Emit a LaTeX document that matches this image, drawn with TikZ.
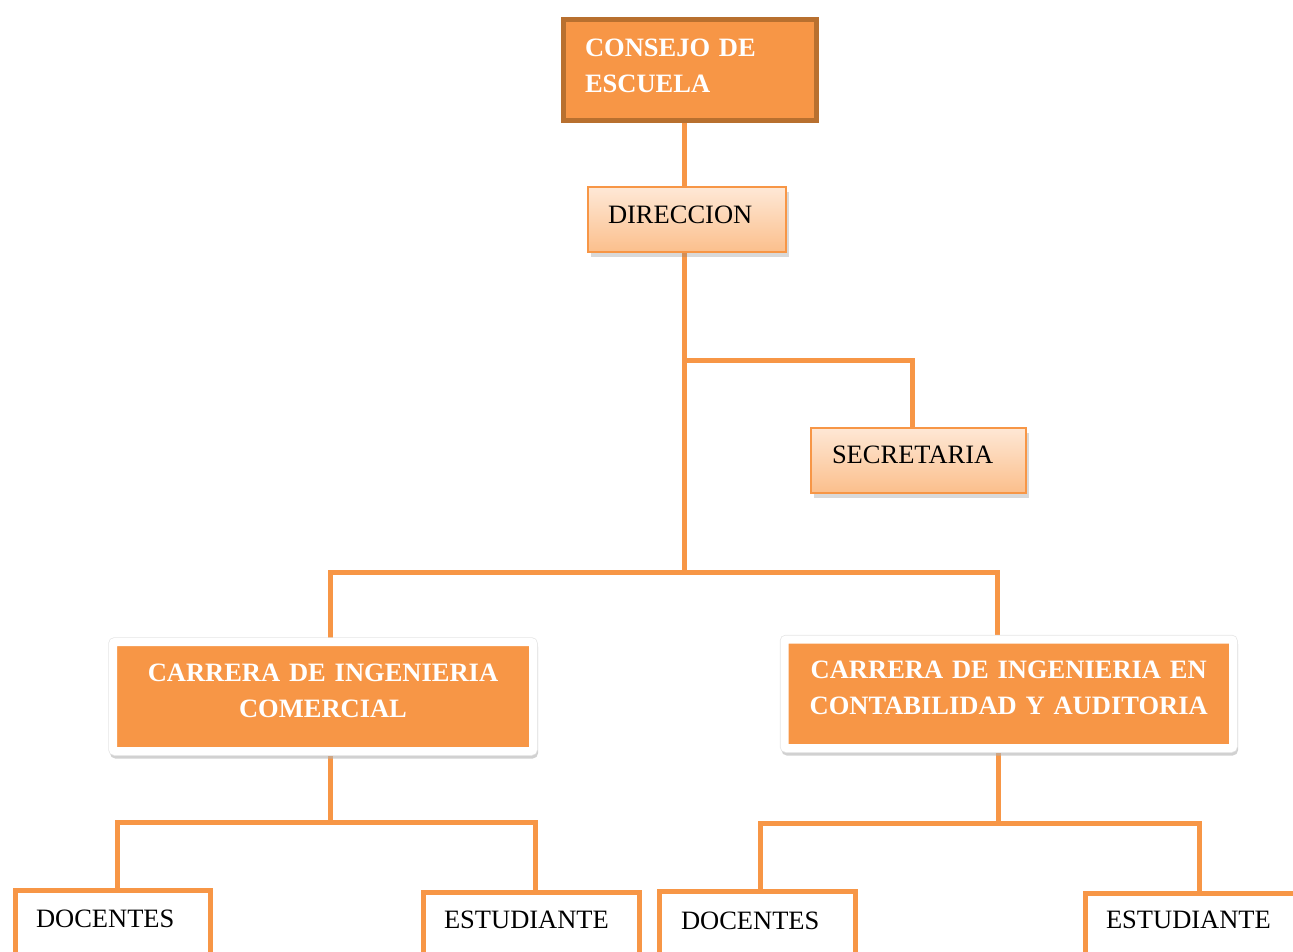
\documentclass[tikz,border=0pt]{standalone}
\usepackage{fontspec}
\setmainfont{Liberation Serif}
\usetikzlibrary{shadows,backgrounds}
\definecolor{org}{HTML}{F79646}
\definecolor{orgdark}{HTML}{B8702F}
\definecolor{orglight}{HTML}{FEE8D6}
\definecolor{orgmid}{HTML}{FBBF8C}
\begin{document}
\begin{tikzpicture}[x=1pt,y=-1pt,
  conn/.style={draw=org,line width=5pt},
  topbox/.style={draw=orgdark,fill=org,line width=5pt,text=white,
    font=\bfseries\fontsize{26.5}{36}\selectfont,align=left,inner sep=0pt,text height=18pt},
  softbox/.style={draw=org,line width=2pt,top color=orglight,bottom color=orgmid,
    drop shadow={opacity=0.3,shadow xshift=3pt,shadow yshift=-5pt},
    font=\fontsize{26.5}{36}\selectfont,align=left,inner sep=0pt,text height=18pt},
  carbox/.style={draw=white,fill=org,line width=8pt,rounded corners=2pt,text=white,
    preaction={draw=black!30,fill=black!30,line width=8pt,opacity=0.6,
      transform canvas={xshift=1pt,yshift=-3.5pt}},
    preaction={draw=black!10,line width=9.5pt},
    font=\bfseries\fontsize{26.5}{36}\selectfont,align=center,inner sep=0pt,text height=18pt},
  botbox/.style={draw=org,fill=white,line width=5pt,
    font=\fontsize{26.5}{36}\selectfont,align=left,inner sep=0pt,text height=18pt,minimum height=100pt}
]
\useasboundingbox (0,0) rectangle (1293,952);
\clip (0,0) rectangle (1293,952);

\node[topbox,minimum width=253pt,minimum height=101.5pt,text width=209pt,text depth=44.5pt]
  (consejo) at (689.5,70.25) {CONSEJO DE\\ESCUELA};
\node[softbox,minimum width=198.5pt,minimum height=64.5pt,text width=157.5pt,text depth=11.5pt]
  (direccion) at (686.75,219.75) {DIRECCION};
\node[softbox,minimum width=215pt,minimum height=65pt,text width=173pt,text depth=12pt]
  (secretaria) at (918.5,460) {SECRETARIA};
\node[carbox,minimum width=420pt,minimum height=109pt,text width=400pt,text depth=49pt]
  (car1) at (323,696.5) {CARRERA DE INGENIERIA\\COMERCIAL};
\node[carbox,minimum width=448.5pt,minimum height=108.5pt,text width=440pt,text depth=48.5pt]
  (car2) at (1008.75,693.75) {CARRERA DE INGENIERIA EN\\CONTABILIDAD Y AUDITORIA};
\node[botbox,minimum width=195pt,text width=154pt,text depth=45pt]
  (docl) at (113,940.5) {DOCENTES};
\node[botbox,minimum width=216pt,text width=175pt,text depth=47pt]
  (estl) at (531.5,942.5) {ESTUDIANTE};
\node[botbox,minimum width=196pt,text width=153pt,text depth=43pt]
  (docr) at (757.5,941.5) {DOCENTES};
\node[botbox,minimum width=216pt,text width=175pt,text depth=49pt]
  (estr) at (1193.5,943.5) {ESTUDIANTE};

\coordinate (j0) at (684.5,572);
\coordinate (js) at (684.5,360);
\coordinate (jl) at (330,822);
\coordinate (jr) at (998,823);

\begin{pgfonlayer}{background}
\draw[conn] (consejo.south -| j0) -- (direccion.north -| j0);
\draw[conn] (direccion.south -| j0) -- (j0);
\draw[conn] (js) -| ([xshift=-6.5pt]secretaria.north);
\draw[conn] ([xshift=7pt]car1.north) |- (j0) -| ([xshift=-11.75pt]car2.north);
\draw[conn] (car1.south -| jl) -- (jl);
\draw[conn] ([xshift=4pt]docl.north) |- (jl) -| ([xshift=3.5pt]estl.north);
\draw[conn] (car2.south -| jr) -- (jr);
\draw[conn] ([xshift=2.5pt]docr.north) |- (jr) -| ([xshift=5.5pt]estr.north);
\end{pgfonlayer}
\end{tikzpicture}
\end{document}
